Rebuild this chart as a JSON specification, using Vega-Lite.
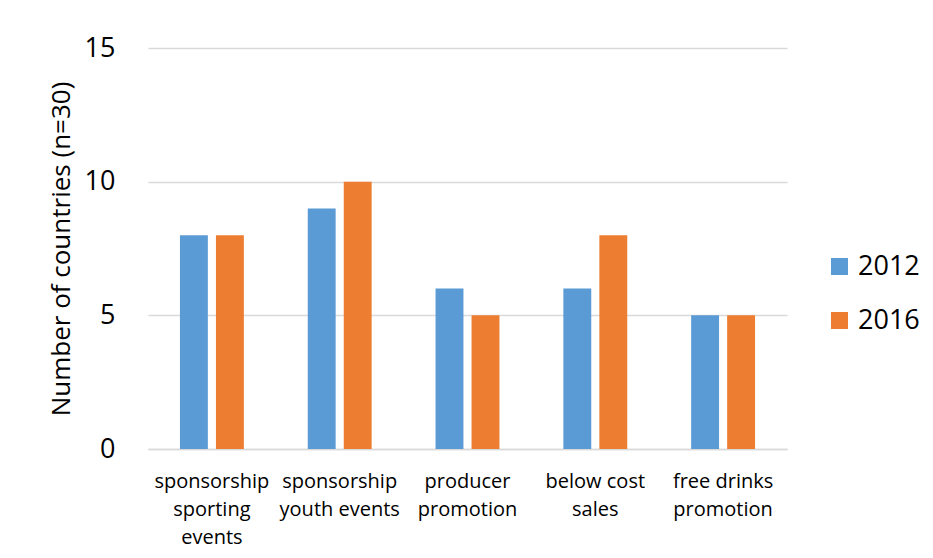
{
  "$schema": "https://vega.github.io/schema/vega-lite/v6.json",
  "autosize": {"type": "none"},
  "padding": {"left": 148, "top": 48, "right": 146, "bottom": 109},
  "width": 639,
  "height": 401,
  "background": "white",
  "config": {
    "font": "Open Sans",
    "view": {"stroke": null}
  },
  "data": {
    "values": [
      {"category": "sponsorship sporting events", "year": "2012", "count": 8},
      {"category": "sponsorship sporting events", "year": "2016", "count": 8},
      {"category": "sponsorship youth events", "year": "2012", "count": 9},
      {"category": "sponsorship youth events", "year": "2016", "count": 10},
      {"category": "producer promotion", "year": "2012", "count": 6},
      {"category": "producer promotion", "year": "2016", "count": 5},
      {"category": "below cost sales", "year": "2012", "count": 6},
      {"category": "below cost sales", "year": "2016", "count": 8},
      {"category": "free drinks promotion", "year": "2012", "count": 5},
      {"category": "free drinks promotion", "year": "2016", "count": 5}
    ]
  },
  "mark": {"type": "bar"},
  "encoding": {
    "x": {
      "field": "category",
      "type": "nominal",
      "sort": null,
      "scale": {"paddingInner": 0.5, "paddingOuter": 0.25},
      "axis": {
        "title": null,
        "labelAngle": 0,
        "labelFont": "Open Sans",
        "labelFontSize": 20,
        "labelColor": "#000000",
        "labelLineHeight": 28,
        "labelPadding": 22,
        "ticks": false,
        "domainColor": "#D9D9D9",
        "domainWidth": 1.5,
        "labelExpr": "datum.label == 'sponsorship sporting events' ? ['sponsorship', 'sporting', 'events'] : datum.label == 'sponsorship youth events' ? ['sponsorship', 'youth events'] : datum.label == 'producer promotion' ? ['producer', 'promotion'] : datum.label == 'below cost sales' ? ['below cost', 'sales'] : ['free drinks', 'promotion']"
      }
    },
    "xOffset": {
      "field": "year",
      "type": "nominal",
      "scale": {"paddingInner": 0.225, "paddingOuter": 0}
    },
    "y": {
      "field": "count",
      "type": "quantitative",
      "scale": {"domain": [0, 15], "nice": false},
      "axis": {
        "title": "Number of countries (n=30)",
        "titleFont": "Open Sans",
        "titleFontSize": 26,
        "titleFontWeight": "normal",
        "titleColor": "#000000",
        "titlePadding": 10,
        "values": [0, 5, 10, 15],
        "labelFont": "Open Sans",
        "labelFontSize": 27,
        "labelColor": "#000000",
        "labelPadding": 33,
        "ticks": false,
        "domain": false,
        "gridColor": "#D9D9D9",
        "gridWidth": 1.5
      }
    },
    "color": {
      "field": "year",
      "type": "nominal",
      "scale": {"domain": ["2012", "2016"], "range": ["#5B9BD5", "#ED7D31"]},
      "legend": {
        "title": null,
        "orient": "none",
        "legendX": 678,
        "legendY": 205,
        "symbolType": "square",
        "symbolSize": 289,
        "symbolStrokeWidth": 0,
        "labelFont": "Open Sans",
        "labelFontSize": 27,
        "labelColor": "#000000",
        "labelOffset": 5,
        "rowPadding": 26
      }
    }
  }
}
